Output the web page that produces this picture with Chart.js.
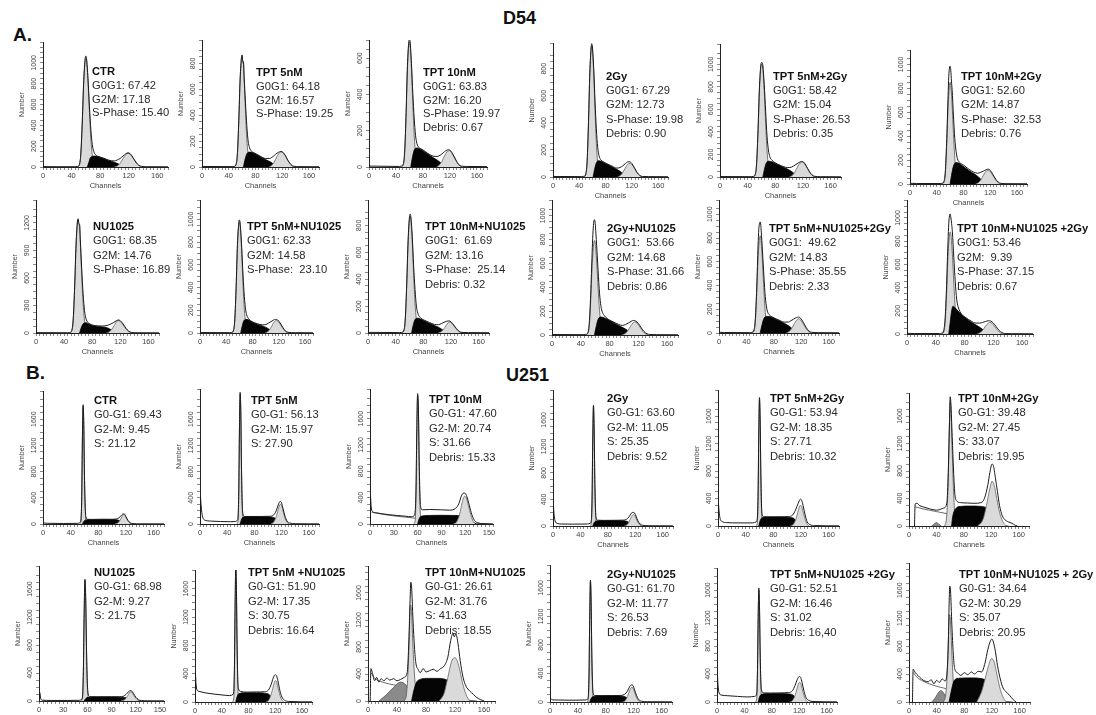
<!DOCTYPE html>
<html><head><meta charset="utf-8">
<script src="https://cdn.jsdelivr.net/npm/chart.js@4.4.1/dist/chart.umd.min.js"></script>
<style>
body{margin:0;background:#fff;width:1096px;height:715px;overflow:hidden;position:relative;font-family:"Liberation Sans",Arial,sans-serif;}
.big{position:absolute;font-weight:bold;color:#111;white-space:nowrap;}
.stats{position:absolute;font-size:11.2px;color:#2a2a2a;white-space:pre;z-index:5;}
.stats div:first-child{font-weight:bold;color:#111;}
canvas{position:absolute;}
</style></head><body>
<div class="big" style="left:13px;top:24px;font-size:19px;line-height:22px;">A.</div>
<div class="big" style="left:503px;top:7px;font-size:18px;line-height:22px;">D54</div>
<div class="big" style="left:26px;top:362px;font-size:19px;line-height:22px;">B.</div>
<div class="big" style="left:506px;top:364px;font-size:18px;line-height:22px;">U251</div>
<script>
// ---------- tick labels ----------
const xTicks160 = [0,40,80,120,160];
const xTicks150 = [0,30,60,90,120,150];
const yTicksA = [
 [0,200,400,600,800,1000],[0,200,400,600,800],[0,200,400,600],[0,200,400,600,800],[0,200,400,600,800,1000],[0,200,400,600,800,1000],
 [0,300,600,900,1200],[0,200,400,600,800,1000],[0,200,400,600,800],[0,200,400,600,800,1000],[0,200,400,600,800,1000],[0,200,400,600,800,1000]];
const yTicksB = [0,400,800,1200,1600];

// ---------- panel texts ----------
const titlesA = ['CTR','TPT 5nM','TPT 10nM','2Gy','TPT 5nM+2Gy','TPT 10nM+2Gy','NU1025','TPT 5nM+NU1025','TPT 10nM+NU1025','2Gy+NU1025','TPT 5nM+NU1025+2Gy','TPT 10nM+NU1025 +2Gy'];
const statsA = [
 ['G0G1: 67.42','G2M: 17.18','S-Phase: 15.40'],
 ['G0G1: 64.18','G2M: 16.57','S-Phase: 19.25'],
 ['G0G1: 63.83','G2M: 16.20','S-Phase: 19.97','Debris: 0.67'],
 ['G0G1: 67.29','G2M: 12.73','S-Phase: 19.98','Debris: 0.90'],
 ['G0G1: 58.42','G2M: 15.04','S-Phase: 26.53','Debris: 0.35'],
 ['G0G1: 52.60','G2M: 14.87','S-Phase:  32.53','Debris: 0.76'],
 ['G0G1: 68.35','G2M: 14.76','S-Phase: 16.89'],
 ['G0G1: 62.33','G2M: 14.58','S-Phase:  23.10'],
 ['G0G1:  61.69','G2M: 13.16','S-Phase:  25.14','Debris: 0.32'],
 ['G0G1:  53.66','G2M: 14.68','S-Phase: 31.66','Debris: 0.86'],
 ['G0G1:  49.62','G2M: 14.83','S-Phase: 35.55','Debris: 2.33'],
 ['G0G1: 53.46','G2M:  9.39','S-Phase: 37.15','Debris: 0.67']];
const titlesB = ['CTR','TPT 5nM','TPT 10nM','2Gy','TPT 5nM+2Gy','TPT 10nM+2Gy','NU1025','TPT 5nM +NU1025','TPT 10nM+NU1025','2Gy+NU1025','TPT 5nM+NU1025 +2Gy','TPT 10nM+NU1025 + 2Gy'];
const statsB = [
 ['G0-G1: 69.43','G2-M: 9.45','S: 21.12'],
 ['G0-G1: 56.13','G2-M: 15.97','S: 27.90'],
 ['G0-G1: 47.60','G2-M: 20.74','S: 31.66','Debris: 15.33'],
 ['G0-G1: 63.60','G2-M: 11.05','S: 25.35','Debris: 9.52'],
 ['G0-G1: 53.94','G2-M: 18.35','S: 27.71','Debris: 10.32'],
 ['G0-G1: 39.48','G2-M: 27.45','S: 33.07','Debris: 19.95'],
 ['G0-G1: 68.98','G2-M: 9.27','S: 21.75'],
 ['G0-G1: 51.90','G2-M: 17.35','S: 30.75','Debris: 16.64'],
 ['G0-G1: 26.61','G2-M: 31.76','S: 41.63','Debris: 18.55'],
 ['G0-G1: 61.70','G2-M: 11.77','S: 26.53','Debris: 7.69'],
 ['G0-G1: 52.51','G2-M: 16.46','S: 31.02','Debris: 16,40'],
 ['G0-G1: 34.64','G2-M: 30.29','S: 35.07','Debris: 20.95']];

// ---------- D54 histograms [channel, count] ----------
const a1_g1 = [[48,0],[51,20],[53,125],[55,420],[57,810],[59,1020],[60,1050],[61,1020],[63,820],[65,525],[67,270],[69,115],[71,40],[74,10],[77,0]];
const a1_s  = [[62,0],[64,40],[66,85],[69,102],[73,105],[78,98],[85,82],[92,62],[100,45],[106,28],[112,8],[116,0]];
const a1_g2 = [[100,0],[104,10],[108,35],[112,80],[116,120],[119,132],[122,122],[126,85],[130,42],[134,14],[138,0]];
const a1_tot = [[0,4],[20,3],[45,3],[48,5],[51,25],[53,135],[55,440],[57,830],[59,1040],[60,1065],[61,1040],[63,850],[65,585],[67,360],[69,215],[71,150],[74,115],[78,100],[85,84],[92,66],[100,58],[104,68],[108,82],[112,105],[116,128],[119,136],[122,128],[126,92],[130,48],[134,18],[138,6],[145,3],[175,2]];

const a2_g1 = [[48,0],[51,18],[53,100],[55,340],[57,660],[59,830],[60,850],[61,800],[62,800],[63,680],[65,430],[67,220],[69,95],[71,35],[74,8],[77,0]];
const a2_s  = [[62,0],[64,50],[67,100],[71,115],[75,112],[80,100],[87,80],[95,58],[102,40],[108,20],[113,5],[116,0]];
const a2_g2 = [[100,0],[104,12],[108,38],[112,80],[116,110],[119,115],[122,105],[126,72],[130,35],[134,10],[138,0]];
const a2_tot = [[0,4],[45,3],[48,5],[51,22],[53,110],[55,360],[57,680],[59,845],[60,865],[61,815],[62,815],[63,700],[65,500],[67,320],[69,200],[71,150],[74,122],[78,110],[82,98],[87,84],[95,66],[101,66],[106,80],[110,98],[114,112],[118,120],[121,114],[125,86],[129,48],[133,20],[137,6],[145,3],[175,2]];

const a3_g1 = [[48,0],[51,15],[53,85],[55,280],[57,540],[59,670],[60,690],[61,670],[63,540],[65,345],[67,180],[69,75],[71,28],[74,7],[77,0]];
const a3_s  = [[62,0],[64,45],[67,92],[71,105],[75,102],[80,90],[87,72],[95,52],[102,36],[108,18],[113,5],[116,0]];
const a3_g2 = [[100,0],[104,10],[108,30],[112,62],[116,85],[119,90],[122,82],[126,56],[130,28],[134,8],[138,0]];
const a3_tot = [[0,5],[45,3],[48,5],[51,18],[53,95],[55,300],[57,560],[59,690],[60,705],[61,690],[63,570],[65,405],[67,270],[69,175],[71,130],[74,108],[80,94],[87,76],[95,60],[101,58],[106,66],[110,78],[114,90],[118,95],[121,90],[125,66],[129,38],[133,14],[137,5],[145,3],[175,2]];

const a4_g1 = [[47,0],[50,20],[52,115],[54,390],[56,750],[58,940],[59,970],[60,940],[62,760],[64,485],[66,250],[68,105],[70,38],[73,9],[76,0]];
const a4_s  = [[61,0],[63,50],[66,105],[70,120],[74,115],[80,100],[87,82],[95,62],[102,42],[108,20],[113,5],[116,0]];
const a4_g2 = [[98,0],[102,10],[106,32],[110,66],[114,95],[117,100],[120,92],[124,62],[128,30],[132,9],[136,0]];
const a4_tot = [[0,4],[43,3],[47,5],[50,25],[52,125],[54,410],[56,770],[58,960],[59,985],[60,960],[62,800],[64,555],[66,355],[68,220],[70,158],[73,125],[76,114],[82,98],[90,80],[97,66],[102,70],[106,82],[110,98],[114,112],[117,112],[120,100],[124,68],[128,34],[132,12],[136,4],[145,3],[175,2]];

const a5_g1 = [[48,0],[51,20],[53,120],[55,400],[57,770],[59,970],[60,1000],[61,1000],[62,960],[64,760],[66,480],[68,240],[70,100],[72,35],[75,8],[78,0]];
const a5_s  = [[62,0],[64,60],[67,125],[71,140],[75,135],[80,120],[87,100],[95,78],[102,55],[108,28],[113,8],[116,0]];
const a5_g2 = [[100,0],[104,12],[108,40],[112,88],[116,124],[119,130],[122,118],[126,80],[130,38],[134,10],[138,0]];
const a5_tot = [[0,4],[45,3],[48,5],[51,25],[53,130],[55,420],[57,790],[59,990],[60,1015],[61,1015],[62,985],[64,820],[66,585],[68,365],[70,240],[72,180],[75,150],[80,126],[87,104],[95,86],[101,84],[106,96],[110,112],[114,128],[118,138],[121,132],[125,96],[129,52],[133,20],[137,6],[145,3],[175,2]];

const a6_g1 = [[48,0],[51,18],[53,100],[55,340],[57,650],[59,825],[60,850],[61,825],[63,660],[65,420],[67,215],[69,90],[71,32],[74,8],[77,0]];
const a6_s  = [[60,0],[62,70],[65,150],[69,180],[73,175],[78,155],[85,125],[92,98],[100,70],[106,40],[111,12],[115,0]];
const a6_g2 = [[98,0],[102,10],[106,35],[110,75],[114,108],[117,115],[120,104],[124,70],[128,34],[132,10],[136,0]];
const a6_tot = [[0,6],[10,4],[45,4],[48,6],[51,25],[53,120],[55,380],[56,560],[57,740],[58,900],[59,970],[60,985],[61,950],[62,860],[63,790],[65,570],[67,380],[69,270],[71,210],[74,182],[80,158],[87,128],[95,100],[101,90],[106,98],[110,108],[114,120],[117,124],[120,114],[124,80],[128,42],[132,16],[136,5],[145,3],[175,2]];

const a7_g1 = [[48,0],[51,25],[53,145],[55,490],[57,950],[59,1200],[60,1230],[61,1180],[62,1170],[63,1000],[65,640],[67,330],[69,140],[71,50],[74,12],[77,0]];
const a7_s  = [[62,0],[64,50],[67,100],[71,112],[75,100],[80,82],[87,72],[95,66],[102,55],[108,30],[113,8],[116,0]];
const a7_g2 = [[100,0],[104,12],[108,42],[112,92],[115,128],[117,135],[120,126],[124,88],[128,44],[132,14],[136,0]];
const a7_tot = [[0,4],[45,3],[48,5],[51,30],[53,160],[55,510],[57,970],[59,1220],[60,1245],[61,1195],[62,1185],[63,1030],[65,705],[67,430],[69,245],[71,160],[74,115],[80,88],[87,78],[95,76],[101,82],[106,96],[110,112],[114,132],[117,142],[120,134],[124,98],[128,52],[132,20],[136,6],[145,3],[175,2]];

const a8_g1 = [[48,0],[51,20],[53,115],[55,390],[57,760],[59,950],[60,980],[61,950],[63,770],[65,490],[67,250],[69,110],[71,38],[74,9],[77,0]];
const a8_s  = [[62,0],[64,55],[67,110],[71,120],[75,112],[80,95],[87,78],[95,62],[102,45],[108,22],[113,6],[116,0]];
const a8_g2 = [[99,0],[103,12],[107,38],[111,80],[114,104],[116,110],[119,100],[123,68],[127,32],[131,9],[135,0]];
const a8_tot = [[0,4],[45,3],[48,5],[51,25],[53,125],[55,410],[57,780],[59,970],[60,995],[61,970],[63,810],[65,565],[67,360],[69,225],[71,160],[74,125],[80,98],[87,82],[95,72],[100,74],[104,86],[108,100],[112,114],[115,120],[118,116],[122,88],[126,50],[130,20],[134,6],[145,3],[172,2]];

const a9_g1 = [[49,0],[52,18],[54,105],[56,350],[58,670],[60,845],[61,870],[62,845],[64,680],[66,435],[68,225],[70,95],[72,35],[75,8],[78,0]];
const a9_s  = [[63,0],[65,50],[68,100],[72,110],[76,104],[82,90],[89,72],[96,56],[103,40],[109,20],[114,5],[117,0]];
const a9_g2 = [[101,0],[105,8],[109,26],[113,56],[116,76],[118,80],[121,72],[125,48],[129,22],[133,6],[137,0]];
const a9_tot = [[0,5],[46,3],[49,5],[52,22],[54,115],[56,370],[58,690],[60,865],[61,885],[62,865],[64,720],[66,500],[68,325],[70,200],[72,148],[75,118],[82,94],[89,78],[96,64],[102,62],[106,70],[110,80],[114,88],[117,90],[120,84],[124,60],[128,32],[132,12],[136,4],[145,3],[175,2]];

const a10_g1 = [[47,0],[50,16],[52,95],[54,320],[56,610],[58,770],[59,790],[60,770],[62,620],[64,395],[66,205],[68,85],[70,30],[73,7],[76,0]];
const a10_s  = [[59,0],[61,60],[64,130],[68,150],[72,145],[78,128],[85,105],[92,82],[99,60],[105,38],[110,14],[114,0]];
const a10_g2 = [[97,0],[101,10],[105,34],[109,72],[113,104],[115,110],[118,100],[122,68],[126,32],[130,9],[134,0]];
const a10_tot = [[0,4],[43,3],[47,5],[50,22],[52,120],[54,380],[55,560],[56,730],[57,870],[58,945],[59,965],[60,935],[61,850],[62,750],[64,540],[66,350],[68,240],[70,190],[73,160],[78,132],[85,110],[92,90],[98,80],[102,88],[106,100],[110,114],[113,122],[116,118],[120,96],[124,60],[128,28],[132,10],[136,4],[145,3],[175,2]];

const a11_g1 = [[48,0],[51,16],[53,98],[55,330],[57,630],[59,795],[60,820],[61,795],[63,640],[65,410],[67,210],[69,88],[71,32],[74,8],[77,0]];
const a11_s  = [[60,0],[62,50],[65,115],[69,140],[74,138],[80,125],[87,105],[95,82],[102,58],[108,30],[113,8],[116,0]];
const a11_g2 = [[98,0],[102,12],[106,38],[110,80],[114,114],[116,120],[119,110],[123,75],[127,36],[131,10],[135,0]];
const a11_tot = [[0,6],[8,4],[45,3],[48,6],[51,25],[53,120],[55,380],[56,560],[57,740],[58,870],[59,920],[60,935],[61,905],[62,820],[63,730],[65,530],[67,340],[69,228],[71,175],[74,150],[80,128],[87,110],[95,92],[101,92],[105,104],[109,118],[113,130],[116,134],[119,124],[123,90],[127,48],[131,18],[135,6],[145,3],[175,2]];

const a12_g1 = [[48,0],[51,18],[53,105],[55,350],[57,680],[59,855],[60,880],[61,855],[63,690],[65,440],[67,225],[69,95],[71,35],[74,8],[77,0]];
const a12_s  = [[58,0],[60,100],[62,200],[64,240],[67,225],[72,190],[78,155],[85,120],[92,92],[100,62],[106,35],[111,12],[115,0]];
const a12_g2 = [[97,0],[101,10],[105,32],[109,68],[113,95],[115,100],[118,92],[122,62],[126,30],[130,8],[134,0]];
const a12_tot = [[0,6],[10,4],[45,4],[48,7],[51,30],[53,140],[55,420],[56,620],[57,800],[58,950],[59,1020],[60,1035],[61,1000],[62,950],[63,880],[65,660],[67,450],[69,300],[71,235],[76,170],[82,140],[89,112],[96,94],[101,94],[105,100],[109,108],[113,114],[116,112],[120,94],[124,62],[128,30],[132,12],[136,4],[145,3],[175,2]];

// ---------- U251 histograms [channel, count] ----------
const b1_g1 = [[53,0],[55,60],[56,400],[57,1300],[58,1800],[59,1500],[60,700],[61,250],[62,60],[64,0]];
const b1_s  = [[57,0],[59,40],[62,62],[70,68],[85,70],[100,68],[108,62],[112,40],[115,10],[117,0]];
const b1_g2 = [[104,0],[108,15],[111,50],[114,110],[116,145],[118,140],[120,100],[123,45],[126,12],[129,0]];
const b1_tot = [[0,20],[2,15],[10,10],[30,8],[50,10],[54,30],[55,80],[56,420],[57,1320],[58,1820],[59,1520],[60,740],[61,290],[62,110],[64,72],[70,70],[85,72],[100,72],[106,78],[110,95],[113,128],[116,155],[118,150],[120,112],[123,55],[126,20],[130,6],[140,3],[175,2]];

const b2_g1 = [[54,0],[56,60],[57,450],[58,1400],[59,1980],[60,1700],[61,850],[62,300],[63,80],[65,0]];
const b2_s  = [[59,0],[61,70],[64,105],[75,112],[90,112],[103,108],[110,90],[114,50],[117,12],[119,0]];
const b2_g2 = [[104,0],[108,25],[112,110],[115,220],[118,300],[120,280],[122,200],[125,90],[128,25],[131,0]];
const b2_tot = [[0,0],[0.5,420],[1.5,300],[3,150],[5,80],[8,55],[15,45],[30,38],[45,35],[52,38],[55,60],[56,120],[57,500],[58,1450],[59,2010],[60,1730],[61,900],[62,360],[63,160],[65,115],[75,115],[90,115],[102,118],[108,135],[112,200],[115,290],[118,345],[120,320],[122,240],[125,120],[128,45],[132,15],[140,5],[175,2]];

const b3_g1 = [[55,0],[57,60],[58,450],[59,1400],[60,1950],[61,1700],[62,850],[63,300],[64,80],[66,0]];
const b3_s  = [[60,0],[62,80],[65,120],[75,130],[90,132],[105,130],[115,125],[122,110],[127,70],[131,20],[134,0]];
const b3_g2 = [[105,0],[109,30],[113,150],[116,320],[119,420],[121,400],[124,280],[127,140],[130,40],[133,0]];
const b3_deb = [[2,180],[20,140],[40,110],[60,85],[80,60],[100,40],[120,20],[140,5],[150,0]];
const b3_tot = [[0,0],[0.5,420],[1.5,260],[3,190],[8,170],[15,155],[25,140],[35,128],[45,118],[52,110],[55,120],[57,200],[58,560],[59,1450],[60,1980],[61,1760],[62,960],[63,420],[64,250],[66,215],[75,220],[90,215],[100,210],[108,240],[112,310],[115,420],[118,470],[120,465],[123,380],[126,240],[129,120],[132,50],[136,18],[142,6],[155,2]];

const b4_g1 = [[54,0],[56,50],[57,400],[58,1300],[59,1800],[60,1450],[61,650],[62,200],[63,50],[65,0]];
const b4_s  = [[58,0],[60,50],[63,75],[75,82],[90,82],[103,78],[109,65],[113,35],[116,8],[118,0]];
const b4_g2 = [[104,0],[108,20],[111,65],[114,130],[117,170],[119,160],[121,115],[124,50],[127,12],[130,0]];
const b4_tot = [[0,0],[0.5,300],[1.5,180],[3,80],[6,40],[12,30],[30,28],[50,30],[54,40],[56,100],[57,450],[58,1330],[59,1820],[60,1480],[61,700],[62,260],[63,120],[65,88],[75,85],[90,86],[102,88],[107,100],[111,140],[114,190],[117,205],[119,195],[121,150],[124,75],[127,30],[131,10],[140,4],[175,2]];

const b5_g1 = [[55,0],[57,60],[58,450],[59,1350],[60,1840],[61,1500],[62,700],[63,220],[64,60],[66,0]];
const b5_s  = [[59,0],[61,80],[64,120],[75,130],[90,130],[103,125],[110,108],[114,60],[117,15],[119,0]];
const b5_g2 = [[105,0],[109,25],[113,110],[116,220],[119,300],[121,285],[123,210],[126,95],[129,25],[132,0]];
const b5_tot = [[0,0],[0.5,330],[1.5,220],[3,110],[6,65],[12,50],[30,45],[50,45],[55,60],[57,130],[58,500],[59,1380],[60,1870],[61,1540],[62,760],[63,290],[64,160],[66,135],[75,133],[90,134],[102,138],[108,160],[112,230],[116,330],[119,390],[121,375],[123,300],[126,160],[129,60],[133,20],[140,6],[175,2]];

const b6_g1 = [[52,0],[55,150],[57,600],[59,1500],[60,1800],[61,1700],[63,1100],[65,500],[67,150],[70,0]];
const b6_s  = [[62,0],[64,150],[68,250],[75,285],[90,290],[105,285],[115,250],[120,180],[124,80],[127,0]];
const b6_g2 = [[100,0],[108,100],[113,300],[118,550],[121,650],[124,600],[128,400],[132,200],[137,60],[142,0]];
const b6_agg = [[33,0],[37,30],[40,50],[43,30],[47,0]];
const b6_deb = [[9,280],[20,250],[40,210],[60,170],[80,120],[100,80],[120,40],[135,10],[145,0]];
const b6_tot = [[8,0],[9,320],[12,330],[15,300],[20,280],[30,250],[40,230],[45,240],[50,260],[55,320],[57,700],[59,1500],[60,1880],[61,1800],[63,1300],[65,800],[67,450],[70,360],[75,340],[85,335],[95,330],[105,340],[110,400],[115,600],[118,780],[121,900],[123,880],[126,700],[129,500],[132,300],[136,150],[140,90],[145,60],[150,40],[155,10],[158,0]];

const b7_g1 = [[52,0],[54,50],[55,400],[56,1250],[57,1720],[58,1400],[59,650],[60,200],[61,50],[63,0]];
const b7_s  = [[56,0],[58,35],[61,52],[72,58],[90,58],[102,55],[108,45],[111,25],[114,6],[116,0]];
const b7_g2 = [[101,0],[105,12],[108,40],[111,95],[113,130],[115,125],[117,90],[120,40],[123,10],[126,0]];
const b7_tot = [[0,0],[1,120],[2,40],[4,12],[15,8],[35,8],[50,10],[53,25],[54,70],[55,420],[56,1270],[57,1740],[58,1430],[59,700],[60,250],[61,100],[63,62],[72,60],[90,60],[100,60],[105,70],[108,95],[111,132],[113,150],[115,142],[117,110],[120,55],[123,20],[127,6],[135,3],[155,2]];

const b8_g1 = [[56,0],[58,60],[59,450],[60,1350],[61,1880],[62,1550],[63,750],[64,250],[65,60],[67,0]];
const b8_s  = [[61,0],[63,75],[66,120],[76,130],[92,130],[104,125],[111,105],[115,60],[118,15],[120,0]];
const b8_g2 = [[106,0],[110,25],[114,110],[117,220],[120,300],[122,285],[124,210],[127,95],[130,25],[133,0]];
const b8_tot = [[0,0],[0.5,410],[1.5,260],[3,170],[6,150],[15,130],[30,110],[45,95],[52,90],[57,110],[58,150],[59,520],[60,1400],[61,1910],[62,1590],[63,800],[64,320],[65,190],[68,150],[78,140],[92,142],[104,145],[110,170],[114,250],[117,340],[120,385],[122,370],[124,300],[127,160],[130,70],[134,25],[140,8],[175,2]];

const b9_g1 = [[50,0],[53,100],[55,400],[57,1000],[58,1400],[59,1420],[60,1300],[62,800],[64,400],[66,150],[69,0]];
const b9_s  = [[60,0],[63,150],[67,280],[72,320],[80,335],[95,335],[105,325],[112,290],[118,220],[125,120],[132,40],[137,0]];
const b9_g2 = [[98,0],[105,120],[110,350],[115,580],[119,640],[122,620],[126,480],[130,280],[135,100],[140,0]];
const b9_agg = [[15,0],[25,90],[35,200],[45,280],[52,240],[58,150],[65,40],[70,0]];
const b9_deb = [[4,420],[10,330],[20,280],[40,230],[60,190],[80,140],[100,90],[120,40],[140,10],[150,0]];
const b9_tot = [[3,0],[4,480],[6,420],[9,300],[12,350],[15,280],[18,330],[22,300],[26,340],[30,310],[35,330],[40,300],[45,320],[50,350],[54,420],[56,800],[58,1500],[59,1760],[60,1700],[62,1200],[64,800],[66,560],[69,470],[72,420],[76,480],[80,430],[85,450],[90,470],[95,440],[100,480],[105,520],[110,650],[114,900],[117,1000],[119,950],[121,1000],[124,850],[127,600],[131,350],[135,220],[140,150],[145,100],[150,50],[155,20],[160,0]];

const b10_g1 = [[53,0],[55,50],[56,380],[57,1200],[58,1690],[59,1380],[60,620],[61,200],[62,50],[64,0]];
const b10_s  = [[57,0],[59,50],[62,78],[73,85],[90,86],[103,82],[109,68],[113,38],[116,10],[118,0]];
const b10_g2 = [[104,0],[108,22],[111,75],[114,155],[117,205],[119,195],[121,145],[124,65],[127,15],[130,0]];
const b10_tot = [[0,0],[1,50],[3,30],[10,28],[30,25],[50,28],[54,40],[55,90],[56,420],[57,1230],[58,1710],[59,1410],[60,680],[61,270],[62,120],[64,92],[73,90],[90,90],[102,92],[107,108],[111,150],[114,210],[117,240],[119,230],[121,180],[124,95],[127,38],[131,12],[140,4],[175,2]];

const b11_g1 = [[56,0],[58,60],[59,400],[60,1150],[61,1600],[62,1320],[63,650],[64,220],[65,50],[67,0]];
const b11_s  = [[60,0],[62,70],[65,110],[76,120],[92,120],[104,116],[111,98],[115,55],[118,12],[120,0]];
const b11_g2 = [[106,0],[110,22],[114,100],[117,200],[120,280],[122,265],[124,195],[127,90],[130,22],[133,0]];
const b11_tot = [[0,0],[0.5,380],[1.5,240],[3,130],[6,100],[15,90],[30,80],[45,72],[55,80],[58,130],[59,460],[60,1190],[61,1630],[62,1360],[63,700],[64,290],[65,170],[68,130],[78,128],[92,130],[104,135],[110,160],[114,240],[117,320],[120,365],[122,350],[124,280],[127,150],[130,60],[134,22],[140,7],[175,2]];

const b12_g1 = [[50,0],[53,100],[55,350],[57,900],[58,1200],[59,1250],[60,1150],[62,700],[64,300],[66,100],[69,0]];
const b12_s  = [[58,0],[61,150],[65,300],[72,340],[90,345],[105,335],[112,300],[118,230],[124,130],[130,40],[134,0]];
const b12_g2 = [[98,0],[105,150],[110,330],[115,520],[119,620],[123,580],[127,400],[132,180],[137,50],[141,0]];
const b12_agg = [[33,0],[38,60],[43,140],[46,165],[50,130],[54,60],[58,0]];
const b12_deb = [[6,420],[12,350],[20,300],[35,240],[50,200],[65,160],[80,120],[100,80],[120,40],[140,10],[150,0]];
const b12_tot = [[5,0],[6,470],[9,420],[13,380],[18,330],[23,300],[28,290],[32,320],[36,260],[40,310],[44,280],[48,330],[52,300],[55,420],[57,900],[58,1400],[59,1660],[60,1600],[62,1100],[64,700],[66,480],[70,420],[75,380],[80,420],[85,390],[90,430],[95,400],[100,440],[105,430],[110,560],[114,750],[118,880],[120,900],[122,860],[125,720],[128,520],[132,330],[136,200],[140,150],[143,120],[146,90],[150,40],[155,0]];

// ---------- panel layout (plot area left, top, right, bottom in px) ----------
const panels = [
 {r:[43,42,168,167],  xMax:175,yMax:1200,yStep:200,xt:xTicks160,yt:yTicksA[0], tx:[92,72,13.8],  t:titlesA[0], st:statsA[0], d:{tot:a1_tot,g1:a1_g1,s:a1_s,g2:a1_g2}},
 {r:[202,40,319,167], xMax:175,yMax:980, yStep:200,xt:xTicks160,yt:yTicksA[1], tx:[256,73,13.8], t:titlesA[1], st:statsA[1], d:{tot:a2_tot,g1:a2_g1,s:a2_s,g2:a2_g2}},
 {r:[369,40,487,167], xMax:175,yMax:700, yStep:200,xt:xTicks160,yt:yTicksA[2], tx:[423,73,13.8], t:titlesA[2], st:statsA[2], d:{tot:a3_tot,g1:a3_g1,s:a3_s,g2:a3_g2}},
 {r:[553,43,668,177], xMax:175,yMax:990, yStep:200,xt:xTicks160,yt:yTicksA[3], tx:[606,76,14.3], t:titlesA[3], st:statsA[3], d:{tot:a4_tot,g1:a4_g1,s:a4_s,g2:a4_g2}},
 {r:[720,44,841,177], xMax:175,yMax:1180,yStep:200,xt:xTicks160,yt:yTicksA[4], tx:[773,76,14.3], t:titlesA[4], st:statsA[4], d:{tot:a5_tot,g1:a5_g1,s:a5_s,g2:a5_g2}},
 {r:[910,50,1027,184],xMax:175,yMax:1120,yStep:200,xt:xTicks160,yt:yTicksA[5], tx:[961,76,14.3], t:titlesA[5], st:statsA[5], d:{tot:a6_tot,g1:a6_g1,s:a6_s,g2:a6_g2}},
 {r:[36,200,159,333], xMax:175,yMax:1450,yStep:300,xt:xTicks160,yt:yTicksA[6], tx:[93,226,14.5], t:titlesA[6], st:statsA[6], d:{tot:a7_tot,g1:a7_g1,s:a7_s,g2:a7_g2}},
 {r:[200,200,313,333],xMax:172,yMax:1170,yStep:200,xt:xTicks160,yt:yTicksA[7], tx:[247,226,14.5], t:titlesA[7], st:statsA[7], d:{tot:a8_tot,g1:a8_g1,s:a8_s,g2:a8_g2}},
 {r:[368,200,489,333],xMax:175,yMax:990, yStep:200,xt:xTicks160,yt:yTicksA[8], tx:[425,226,14.5], t:titlesA[8], st:statsA[8], d:{tot:a9_tot,g1:a9_g1,s:a9_s,g2:a9_g2}},
 {r:[552,200,678,335],xMax:175,yMax:1130,yStep:200,xt:xTicks160,yt:yTicksA[9], tx:[607,228,14.5], t:titlesA[9], st:statsA[9], d:{tot:a10_tot,g1:a10_g1,s:a10_s,g2:a10_g2}},
 {r:[719,200,839,333],xMax:175,yMax:1120,yStep:200,xt:xTicks160,yt:yTicksA[10],tx:[769,228,14.5], t:titlesA[10],st:statsA[10],d:{tot:a11_tot,g1:a11_g1,s:a11_s,g2:a11_g2}},
 {r:[907,200,1033,334],xMax:175,yMax:1155,yStep:200,xt:xTicks160,yt:yTicksA[11],tx:[957,228,14.5], t:titlesA[11],st:statsA[11],d:{tot:a12_tot,g1:a12_g1,s:a12_s,g2:a12_g2}},

 {r:[43,391,164,524], xMax:175,yMax:2030,yStep:400,xt:xTicks160,yt:yTicksB, tx:[94,400,14.5],  t:titlesB[0], st:statsB[0], d:{tot:b1_tot,g1:b1_g1,s:b1_s,g2:b1_g2}},
 {r:[200,389,319,524],xMax:175,yMax:2060,yStep:400,xt:xTicks160,yt:yTicksB, tx:[251,400,14.5], t:titlesB[1], st:statsB[1], d:{tot:b2_tot,g1:b2_g1,s:b2_s,g2:b2_g2}},
 {r:[370,389,493,524],xMax:155,yMax:2050,yStep:400,xt:xTicks150,yt:yTicksB, tx:[429,399,14.5], t:titlesB[2], st:statsB[2], d:{tot:b3_tot,g1:b3_g1,s:b3_s,g2:b3_g2,deb:b3_deb}},
 {r:[553,390,673,526],xMax:175,yMax:2050,yStep:400,xt:xTicks160,yt:yTicksB, tx:[607,398,14.5], t:titlesB[3], st:statsB[3], d:{tot:b4_tot,g1:b4_g1,s:b4_s,g2:b4_g2}},
 {r:[718,390,839,526],xMax:175,yMax:1980,yStep:400,xt:xTicks160,yt:yTicksB, tx:[770,398,14.5], t:titlesB[4], st:statsB[4], d:{tot:b5_tot,g1:b5_g1,s:b5_s,g2:b5_g2}},
 {r:[909,393,1029,526],xMax:175,yMax:1935,yStep:400,xt:xTicks160,yt:yTicksB, tx:[958,398,14.5], t:titlesB[5], st:statsB[5], d:{tot:b6_tot,g1:b6_g1,s:b6_s,g2:b6_g2,agg:b6_agg,deb:b6_deb}},
 {r:[39,566,164,701], xMax:155,yMax:1930,yStep:400,xt:xTicks150,yt:yTicksB, tx:[94,572,14.5],  t:titlesB[6], st:statsB[6], d:{tot:b7_tot,g1:b7_g1,s:b7_s,g2:b7_g2}},
 {r:[195,570,312,702],xMax:175,yMax:1865,yStep:400,xt:xTicks160,yt:yTicksB, tx:[248,572,14.5], t:titlesB[7], st:statsB[7], d:{tot:b8_tot,g1:b8_g1,s:b8_s,g2:b8_g2}},
 {r:[368,566,495,701],xMax:175,yMax:2000,yStep:400,xt:xTicks160,yt:yTicksB, tx:[425,572,14.5], t:titlesB[8], st:statsB[8], d:{tot:b9_tot,g1:b9_g1,s:b9_s,g2:b9_g2,agg:b9_agg,deb:b9_deb}},
 {r:[550,565,672,702],xMax:175,yMax:1920,yStep:400,xt:xTicks160,yt:yTicksB, tx:[607,574,14.5], t:titlesB[9], st:statsB[9], d:{tot:b10_tot,g1:b10_g1,s:b10_s,g2:b10_g2}},
 {r:[717,568,837,702],xMax:175,yMax:1915,yStep:400,xt:xTicks160,yt:yTicksB, tx:[770,574,14.5], t:titlesB[10],st:statsB[10],d:{tot:b11_tot,g1:b11_g1,s:b11_s,g2:b11_g2}},
 {r:[909,563,1030,702],xMax:175,yMax:1990,yStep:400,xt:xTicks160,yt:yTicksB, tx:[959,574,14.5], t:titlesB[11],st:statsB[11],d:{tot:b12_tot,g1:b12_g1,s:b12_s,g2:b12_g2,agg:b12_agg,deb:b12_deb}}
];

const FONT = '"Liberation Sans", Arial, sans-serif';
Chart.defaults.font.family = FONT;

const rotY = {
  id:'rotY',
  afterDraw(chart, args, opts){
    const y = chart.scales.y, ctx = chart.ctx;
    ctx.save();
    ctx.fillStyle = '#444'; ctx.font = '7px ' + FONT;
    ctx.textAlign = 'center'; ctx.textBaseline = 'middle';
    for (const v of opts.values) {
      const py = y.getPixelForValue(v);
      ctx.save(); ctx.translate(y.right - 9, py); ctx.rotate(-Math.PI/2);
      ctx.fillText(String(v), 0, 0); ctx.restore();
    }
    ctx.restore();
  }
};

function pts(a){ return a.map(p => ({x:p[0], y:p[1]})); }
function series(d){
  const base = {pointRadius:0, cubicInterpolationMode:'monotone', tension:0.3};
  const out = [];
  if (d.tot) out.push({...base, data:pts(d.tot), borderColor:'#1a1a1a', borderWidth:1, fill:false, order:0});
  if (d.g2)  out.push({...base, data:pts(d.g2), borderColor:'#666', borderWidth:0.8, backgroundColor:'#dadada', fill:'origin', order:1});
  if (d.s)   out.push({...base, data:pts(d.s), borderColor:'#000', borderWidth:0.8, backgroundColor:'#050505', fill:'origin', order:2});
  if (d.g1)  out.push({...base, data:pts(d.g1), borderColor:'#555', borderWidth:0.8, backgroundColor:'#dadada', fill:'origin', order:3});
  if (d.agg) out.push({...base, data:pts(d.agg), borderColor:'#555', borderWidth:0.8, backgroundColor:'#8a8a8a', fill:'origin', order:4});
  if (d.deb) out.push({...base, data:pts(d.deb), borderColor:'#444', borderWidth:0.8, fill:false, order:5});
  return out;
}

const padL = 26, padR = 3, padT = 5, padB = 24;
panels.forEach(p => {
  const [l,t,r,b] = p.r;
  const w = (r-l) + padL + padR, h = (b-t) + padT + padB;
  const cv = document.createElement('canvas');
  cv.width = w; cv.height = h;
  cv.style.left = (l-padL)+'px'; cv.style.top = (t-padT)+'px';
  cv.style.width = w+'px'; cv.style.height = h+'px';
  document.body.appendChild(cv);
  const xl = p.xt;
  new Chart(cv, {
    type:'line',
    data:{datasets:series(p.d)},
    options:{
      responsive:false, devicePixelRatio:1, animation:false, events:[],
      layout:{padding:{left:0,right:padR,top:padT,bottom:0}},
      plugins:{legend:{display:false}, tooltip:{enabled:false}, rotY:{values:p.yt}},
      scales:{
        x:{type:'linear', min:0, max:p.xMax,
          afterFit(s){ s.height = padB; },
          border:{color:'#222', width:1},
          grid:{drawOnChartArea:false, drawTicks:true, tickLength:3, color:'#555', tickWidth:0.7},
          ticks:{stepSize:5, maxTicksLimit:1000, autoSkip:false, maxRotation:0, minRotation:0, padding:1, color:'#444',
                 font:{size:7.5}, callback:(v)=> xl.includes(v) ? String(v) : ''},
          title:{display:true, text:'Channels', color:'#444', font:{size:7.5}, padding:{top:0,bottom:1}}},
        y:{type:'linear', min:0, max:p.yMax,
          afterFit(s){ s.width = padL; },
          border:{color:'#222', width:1},
          grid:{drawOnChartArea:false, drawTicks:true, tickLength:3, color:'#555', tickWidth:0.7},
          ticks:{display:false, stepSize:p.yStep/4, maxTicksLimit:1000},
          title:{display:true, text:'Number', color:'#444', font:{size:7}, padding:{top:1,bottom:0}}}
      }
    },
    plugins:[rotY]
  });
  const div = document.createElement('div');
  div.className = 'stats';
  const [tx, ty, lh] = p.tx;
  div.style.left = tx+'px'; div.style.top = (ty - lh/2)+'px'; div.style.lineHeight = lh+'px';
  [p.t, ...p.st].forEach(s => { const e = document.createElement('div'); e.textContent = s; div.appendChild(e); });
  document.body.appendChild(div);
});
</script>
</body></html>
